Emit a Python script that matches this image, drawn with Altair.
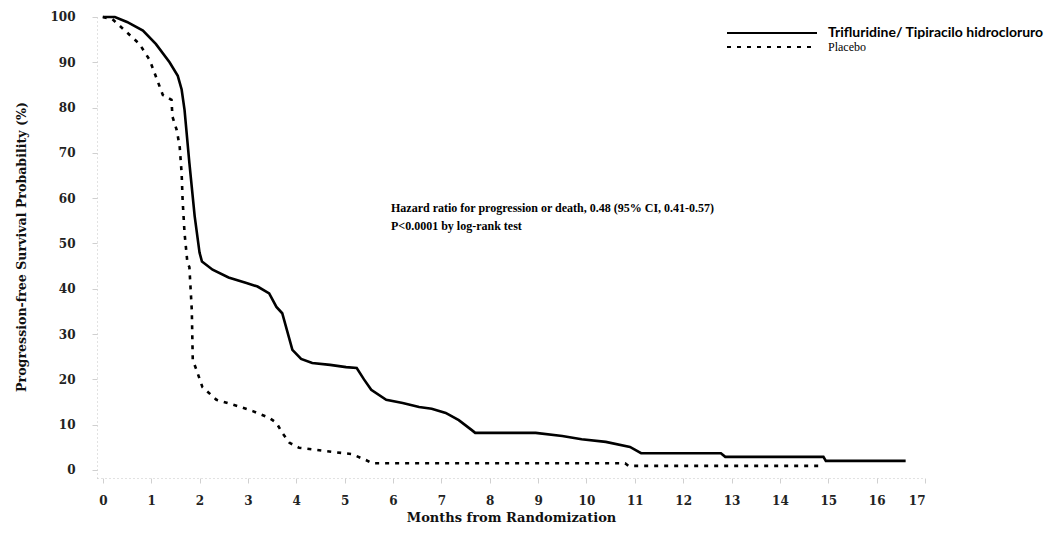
import altair as alt
import pandas as pd

# Trifluridine/Tipiracil (solid) Kaplan-Meier curve
tri_months = [0, 0.25, 0.5, 0.83, 1.1, 1.38, 1.55, 1.63, 1.69, 1.79, 1.9, 2.0, 2.05, 2.27, 2.6,
              2.97, 3.2, 3.44, 3.59, 3.71, 3.92, 4.1, 4.33, 4.7, 5.03, 5.25, 5.4, 5.55, 5.86,
              6.2, 6.54, 6.8, 7.09, 7.36, 7.63, 7.7, 8.95, 9.5, 9.9, 10.4, 10.9, 11.13, 12.78,
              12.87, 14.9, 14.95, 16.6]
tri_pfs = [100, 100, 98.9, 97, 94, 90, 87, 84, 79.5, 67.8, 56, 48, 46, 44.2, 42.5,
           41.3, 40.5, 39, 36, 34.6, 26.5, 24.5, 23.6, 23.2, 22.7, 22.5, 20, 17.7, 15.5,
           14.8, 13.9, 13.5, 12.6, 11, 8.8, 8.2, 8.2, 7.5, 6.8, 6.2, 5.1, 3.7, 3.7,
           2.9, 2.9, 2.0, 2.0]

# Placebo (dashed)
pla_months = [0, 0.2, 0.49, 0.76, 0.97, 1.11, 1.24, 1.42, 1.44, 1.53, 1.59, 1.63, 1.65, 1.69,
              1.75, 1.79, 1.84, 1.86, 1.94, 2.06, 2.35, 2.82, 3.1, 3.44, 3.59, 3.71, 3.86,
              4.06, 4.74, 5.15, 5.44, 5.57, 10.8, 10.87, 14.9]
pla_pfs = [100, 99.5, 96.7, 94, 90.5, 86.5, 82.8, 81.7, 78, 75, 71.3, 65.5, 59.6, 52.3,
           45.7, 44.8, 35.3, 24.3, 22, 18.3, 15.5, 14, 13, 11.5, 10.4, 8.2, 6,
           4.9, 4, 3.5, 2.2, 1.5, 1.5, 0.9, 0.9]

series_names = ["Trifluridine/ Tipiracilo hidrocloruro", "Placebo"]
x_ticks = list(range(0, 18))
y_ticks = list(range(0, 101, 10))
annotation_lines = ["Hazard ratio for progression or death, 0.48 (95% CI, 0.41-0.57)",
                    "P<0.0001 by log-rank test"]

tri_df = pd.DataFrame({"month": tri_months, "pfs": tri_pfs, "series": series_names[0]})
pla_df = pd.DataFrame({"month": pla_months, "pfs": pla_pfs, "series": series_names[1]})

W, H = 828, 463
xscale = alt.Scale(domain=[-0.12, 17], nice=False, zero=False)
yscale = alt.Scale(domain=[-1.77, 100.44], nice=False, zero=False)

axis_common = dict(
    domainColor="#c4c4c4", domainDash=[1, 3], domainWidth=1,
    tickColor="#d0d0d0", tickSize=5, tickWidth=1, grid=False,
    labelFont="DejaVu Serif", labelFontWeight="bold", labelFontSize=12, labelColor="#222222",
    titleFont="DejaVu Serif", titleFontWeight="bold", titleColor="#111111",
)

x_enc = alt.X("month:Q", scale=xscale,
              axis=alt.Axis(values=x_ticks, title="Months from Randomization",
                            labelPadding=12, titlePadding=5, titleFontSize=13, **axis_common))
y_enc = alt.Y("pfs:Q", scale=yscale,
              axis=alt.Axis(values=y_ticks, title="Progression-free Survival Probability (%)",
                            labelPadding=17, titlePadding=21, titleFontSize=12.6, **axis_common))

solid = alt.Chart(tri_df).mark_line(color="#000000", strokeWidth=2.6).encode(x=x_enc, y=y_enc)
dashed = alt.Chart(pla_df).mark_line(color="#000000", strokeWidth=2.6, strokeDash=[4, 6]).encode(
    x=alt.X("month:Q", scale=xscale), y=alt.Y("pfs:Q", scale=yscale))

# manual legend (layout positions in pixels)
leg_solid = alt.Chart(pd.DataFrame({"s": [series_names[0]]})).mark_rule(
    color="#000000", strokeWidth=2).encode(x=alt.value(630), x2=alt.value(720), y=alt.value(18))
leg_dash = alt.Chart(pd.DataFrame({"s": [series_names[1]]})).mark_rule(
    color="#000000", strokeWidth=2, strokeDash=[4, 6]).encode(x=alt.value(630), x2=alt.value(720), y=alt.value(32))
leg_t1 = alt.Chart(pd.DataFrame({"s": [series_names[0]]})).mark_text(
    align="left", baseline="middle", font="Lato", fontWeight="bold", fontSize=14, color="#000000"
).encode(x=alt.value(731), y=alt.value(18), text="s:N")
leg_t2 = alt.Chart(pd.DataFrame({"s": [series_names[1]]})).mark_text(
    align="left", baseline="middle", font="Liberation Serif", fontSize=12, color="#000000"
).encode(x=alt.value(731), y=alt.value(32), text="s:N")

ann1 = alt.Chart(pd.DataFrame({"t": [annotation_lines[0]]})).mark_text(
    align="left", baseline="middle", font="Liberation Serif", fontWeight="bold", fontSize=12, color="#000000"
).encode(x=alt.value(294), y=alt.value(193), text="t:N")
ann2 = alt.Chart(pd.DataFrame({"t": [annotation_lines[1]]})).mark_text(
    align="left", baseline="middle", font="Liberation Serif", fontWeight="bold", fontSize=12, color="#000000"
).encode(x=alt.value(294), y=alt.value(211), text="t:N")

chart = alt.layer(solid, dashed, leg_solid, leg_dash, leg_t1, leg_t2, ann1, ann2).properties(
    width=W, height=H,
    autosize=alt.AutoSizeParams(type="none"),
    padding={"left": 89, "top": 7, "right": 124, "bottom": 50},
).configure(background="white").configure_view(stroke=None, strokeWidth=0)

chart.save("out.html", embed_options={"renderer": "svg", "actions": False})
